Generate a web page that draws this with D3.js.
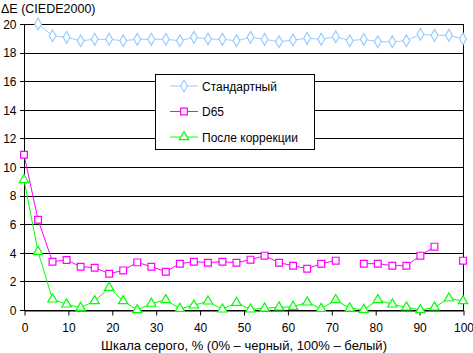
<!DOCTYPE html>
<html>
<head>
<meta charset="utf-8">
<title>Delta E</title>
<script src="https://cdnjs.cloudflare.com/ajax/libs/d3/7.8.5/d3.min.js"></script>
<style>
    body { margin: 0; background: #fff; }
    svg { font-family: Arial, "Liberation Sans", sans-serif; }
</style>
</head>
<body>
<script>
    // grey level, % (32 steps)
    const greyLevels = [0, 3.2, 6.5, 9.7, 12.9, 16.1, 19.4, 22.6, 25.8, 29.0, 32.3, 35.5, 38.7, 41.9, 45.2, 48.4,
        51.6, 54.8, 58.1, 61.3, 64.5, 67.7, 71.0, 74.2, 77.4, 80.6, 83.9, 87.1, 90.3, 93.5, 96.8, 100];
    const standard = [null, 20.0, 19.18, 19.07, 18.83, 18.93, 18.93, 18.83, 18.93, 18.93, 18.93, 18.83, 19.07, 18.95, 18.93, 18.83,
        19.07, 18.93, 18.76, 18.88, 19.0, 18.93, 19.11, 18.83, 18.93, 18.76, 18.76, 18.83, 19.28, 19.21, 19.21, 18.95];
    const d65 = [10.86, 6.31, 3.38, 3.5, 3.03, 2.96, 2.54, 2.77, 3.33, 3.03, 2.68, 3.24, 3.38, 3.31, 3.38, 3.31,
        3.52, 3.8, 3.31, 3.1, 2.89, 3.24, 3.45, null, 3.24, 3.24, 3.1, 3.1, 3.8, 4.43, null, 3.45];
    const corrected = [9.1, 4.08, 0.75, 0.4, 0.16, 0.63, 1.56, 0.63, 0.0, 0.45, 0.7, 0.09, 0.33, 0.61, 0.05, 0.51,
        0.05, 0.12, 0.19, 0.23, 0.54, 0.09, 0.7, 0.12, 0.02, 0.7, 0.4, 0.19, 0.0, 0.19, 0.82, 0.63];
    const xTicks = [0, 10, 20, 30, 40, 50, 60, 70, 80, 90, 100];
    const yTicks = [0, 2, 4, 6, 8, 10, 12, 14, 16, 18, 20];
    const seriesNames = ["Стандартный", "D65", "После коррекции"];

    const series = [
        {name: seriesNames[0], values: standard, color: "#99ccff", symbol: d3.symbolDiamond, size: 40},
        {name: seriesNames[1], values: d65, color: "#ff00ff", symbol: d3.symbolSquare, size: 46},
        {name: seriesNames[2], values: corrected, color: "#00ff00", symbol: d3.symbolTriangle, size: 38}
    ];

    const svg = d3.select("body").append("svg").attr("width", 473).attr("height", 353);
    const x = d3.scaleLinear().domain([0, 100]).range([24, 463]);
    const y = d3.scaleLinear().domain([0, 20]).range([310, 24]);

    // grid
    svg.append("g").selectAll("line").data(yTicks).enter().append("line")
        .attr("x1", 20).attr("x2", 463)
        .attr("y1", d => Math.round(y(d)) + 0.5).attr("y2", d => Math.round(y(d)) + 0.5)
        .attr("stroke", "#000");
    svg.append("line").attr("x1", 463.5).attr("x2", 463.5).attr("y1", 24).attr("y2", 311).attr("stroke", "#000");
    svg.append("line").attr("x1", 24.5).attr("x2", 24.5).attr("y1", 24).attr("y2", 311).attr("stroke", "#000");

    const xAxis = svg.append("g").attr("transform", "translate(0.5,310.5)")
        .call(d3.axisBottom(x).tickValues(xTicks).tickSize(5).tickSizeOuter(0).tickPadding(8));
    xAxis.select(".domain").attr("stroke", "#000");
    xAxis.selectAll("text").attr("font-size", 12).attr("fill", "#000").attr("font-family", "Arial, 'Liberation Sans', sans-serif");

    const yAxis = svg.append("g").attr("transform", "translate(24.5,0.5)")
        .call(d3.axisLeft(y).tickValues(yTicks).tickSize(0).tickPadding(8));
    yAxis.select(".domain").remove();
    yAxis.selectAll("text").attr("font-size", 12).attr("fill", "#000").attr("font-family", "Arial, 'Liberation Sans', sans-serif");

    svg.append("text").attr("x", 1).attr("y", 13).attr("font-size", 12.5).text("ΔE (CIEDE2000)");
    svg.append("text").attr("x", 244).attr("y", 350).attr("text-anchor", "middle").attr("font-size", 13)
        .text("Шкала серого, % (0% – черный, 100% – белый)");

    const line = d3.line().defined(d => d.v !== null).x(d => x(d.x)).y(d => y(d.v));

    series.forEach(s => {
        const pts = greyLevels.map((g, i) => ({x: g, v: s.values[i]}));
        svg.append("path").datum(pts).attr("d", line).attr("fill", "none")
            .attr("stroke", s.color).attr("stroke-width", 1);
        svg.append("g").selectAll("path").data(pts.filter(p => p.v !== null)).enter().append("path")
            .attr("d", d3.symbol().type(s.symbol).size(s.size))
            .attr("transform", d => `translate(${x(d.x)},${y(d.v)})`)
            .attr("fill", "#fff").attr("stroke", s.color).attr("stroke-width", 1.2);
    });

    // legend
    const legend = svg.append("g");
    legend.append("rect").attr("x", 155.5).attr("y", 74.5).attr("width", 159).attr("height", 75)
        .attr("fill", "#fff").attr("stroke", "#000");
    series.forEach((s, i) => {
        const ly = 86 + i * 25.5;
        legend.append("line").attr("x1", 170).attr("x2", 198).attr("y1", ly).attr("y2", ly).attr("stroke", s.color);
        legend.append("path").attr("d", d3.symbol().type(s.symbol).size(s.size))
            .attr("transform", `translate(184,${ly})`)
            .attr("fill", "#fff").attr("stroke", s.color).attr("stroke-width", 1.2);
        legend.append("text").attr("x", 202).attr("y", ly + 4.5).attr("font-size", 12).text(s.name);
    });
</script>
</body>
</html>
